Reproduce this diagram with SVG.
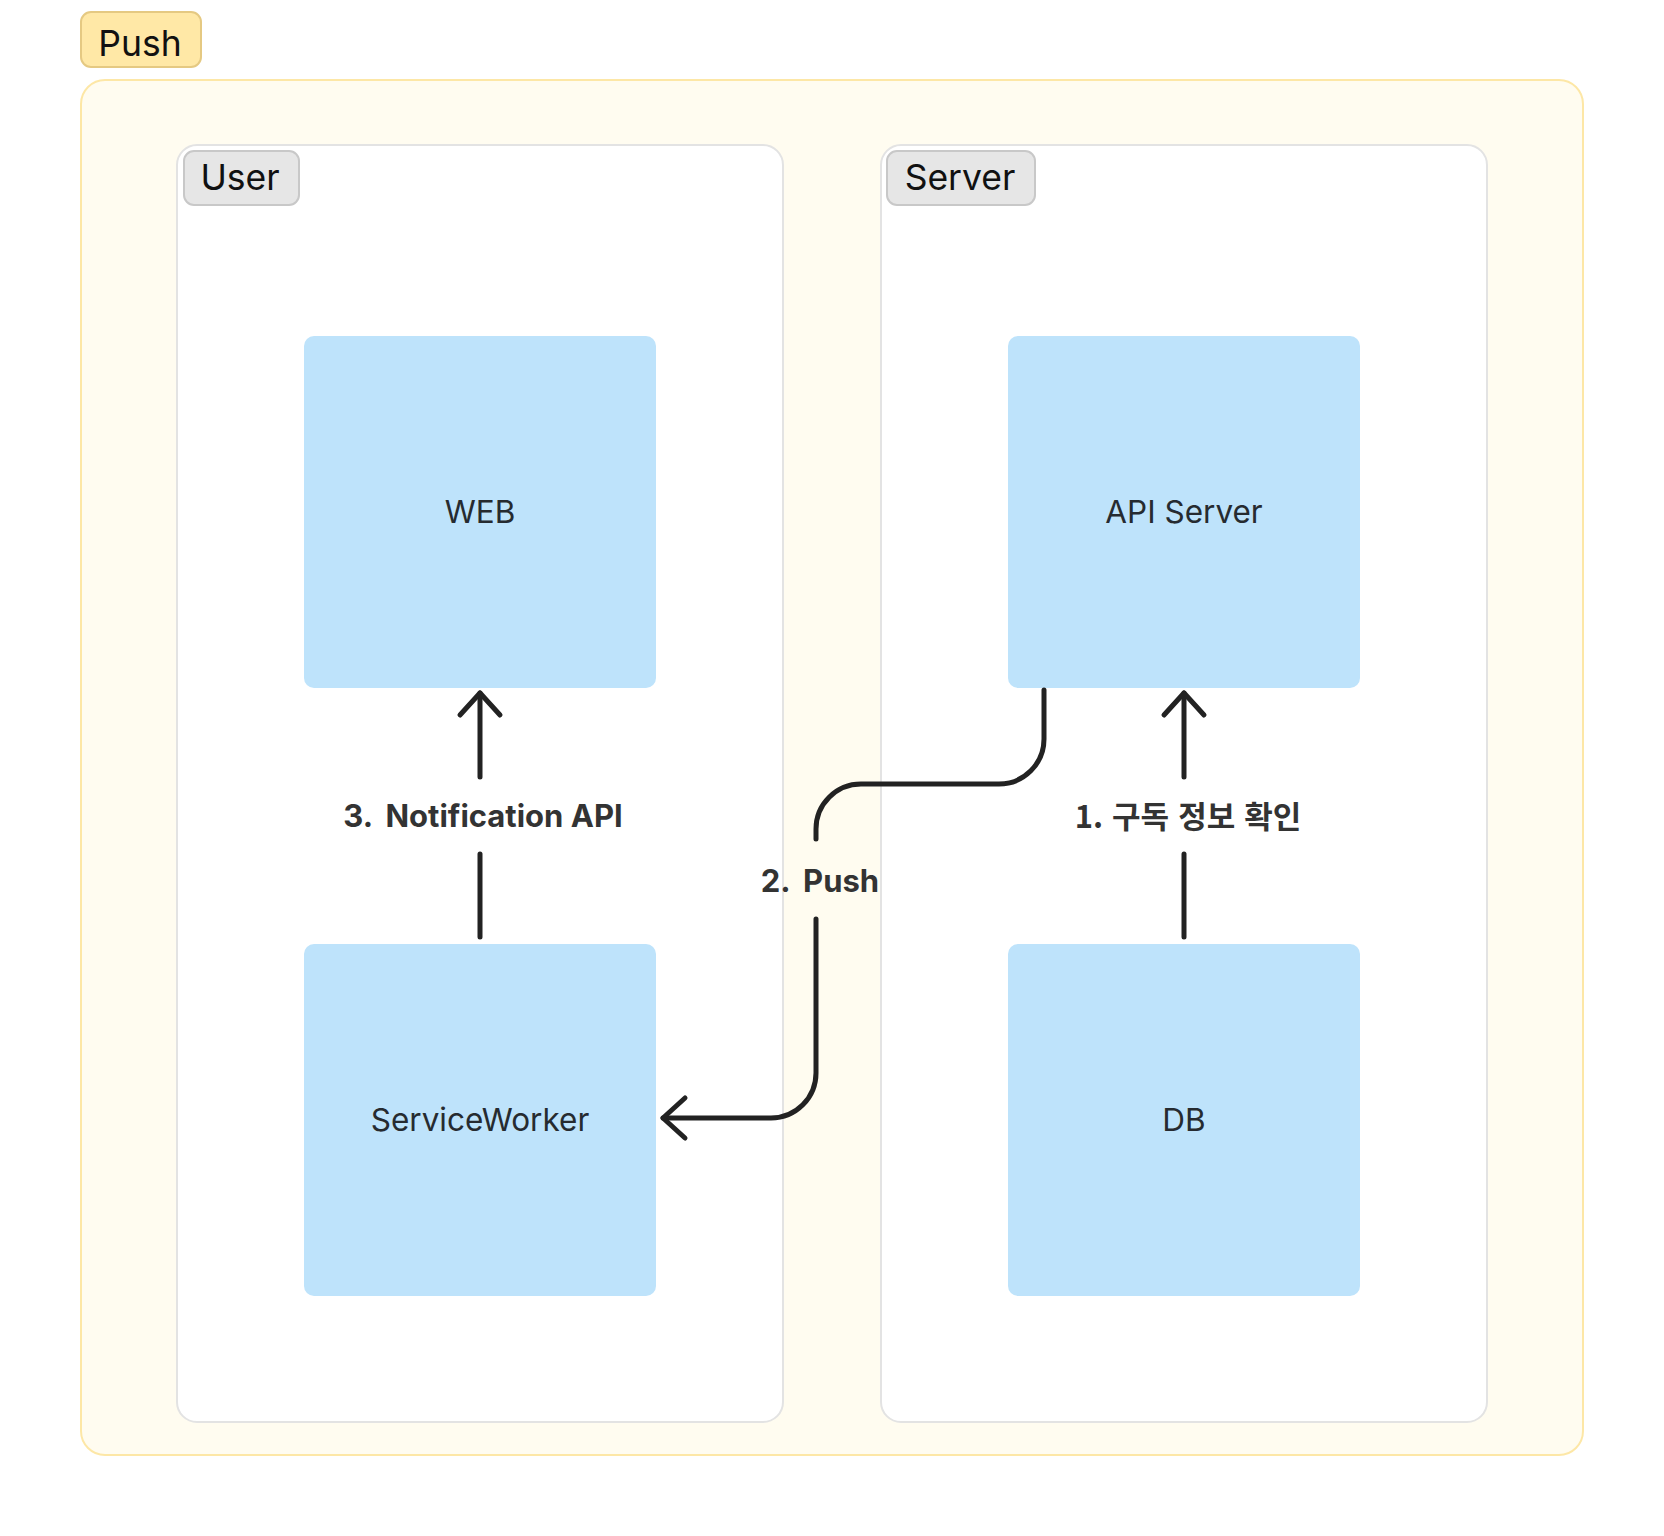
<svg xmlns="http://www.w3.org/2000/svg" width="1664" height="1536" viewBox="0 0 1664 1536">
<style>
.grp-label{font-family:Inter,"Liberation Sans",sans-serif;font-size:35.5px;fill:#111;text-anchor:middle}
.node rect{fill:#BEE3FB}
.node text{font-family:Inter,"Liberation Sans",sans-serif;font-size:31.5px;fill:#262b30;text-anchor:middle}
.conn{fill:none;stroke:#222;stroke-width:5;stroke-linecap:round;stroke-linejoin:round}
.clabel{font-family:Inter,"Liberation Sans","Noto Sans CJK KR",sans-serif;font-weight:bold;font-size:31px;fill:#333;text-anchor:middle}
.clabel-kr{font-family:"Noto Sans CJK KR",sans-serif;font-weight:bold;font-size:31px;word-spacing:2px;fill:#333;text-anchor:middle}
</style>
<defs>
<marker id="arr" markerUnits="userSpaceOnUse" markerWidth="60" markerHeight="60" viewBox="-30 -30 60 60" refX="0" refY="0" orient="auto" overflow="visible">
<path d="M-22,-20 L0,0 L-22,20" fill="none" stroke="#222" stroke-width="5" stroke-linecap="round" stroke-linejoin="round"/>
</marker>
</defs>
<rect width="1664" height="1536" fill="#fff"/>
<g id="group-push">
<rect x="81" y="80" width="1502" height="1375" rx="24" fill="#FFFCF0" stroke="#FDE7A6" stroke-width="2"/>
<rect x="81" y="12" width="120" height="55" rx="10" fill="#FFE8A6" stroke="#E5C982" stroke-width="2"/>
<text class="grp-label" x="140" y="56">Push</text>
</g>
<g id="group-user">
<rect x="177" y="145" width="606" height="1277" rx="20" fill="#fff" stroke="#E3E3E3" stroke-width="2"/>
<rect x="184" y="151" width="115" height="54" rx="10" fill="#E6E6E6" stroke="#C8C8C8" stroke-width="2"/>
<text class="grp-label" x="240" y="190">User</text>
</g>
<g id="group-server">
<rect x="881" y="145" width="606" height="1277" rx="20" fill="#fff" stroke="#E3E3E3" stroke-width="2"/>
<rect x="887" y="151" width="148" height="54" rx="10" fill="#E6E6E6" stroke="#C8C8C8" stroke-width="2"/>
<text class="grp-label" x="960" y="190">Server</text>
</g>
<g id="node-web" class="node">
<rect x="304" y="336" width="352" height="352" rx="10"/>
<text x="480" y="523">WEB</text>
</g>
<g id="node-serviceworker" class="node">
<rect x="304" y="944" width="352" height="352" rx="10"/>
<text x="480" y="1131">ServiceWorker</text>
</g>
<g id="node-apiserver" class="node">
<rect x="1008" y="336" width="352" height="352" rx="10"/>
<text x="1184" y="523">API Server</text>
</g>
<g id="node-db" class="node">
<rect x="1008" y="944" width="352" height="352" rx="10"/>
<text x="1184" y="1131">DB</text>
</g>
<g id="connectors">
<path class="conn" d="M480,937 V854"/>
<path class="conn" d="M480,777 V693" marker-end="url(#arr)"/>
<text class="clabel" x="483" y="827">3.<tspan dx="6"> Notification API</tspan></text>
<path class="conn" d="M1184,937 V854"/>
<path class="conn" d="M1184,777 V693" marker-end="url(#arr)"/>
<text class="clabel-kr" x="1188" y="828">1. 구독 정보 확인</text>
<path class="conn" d="M1044,690 V739 A45,45 0 0 1 999,784 H861 A45,45 0 0 0 816,829 V839"/>
<path class="conn" d="M816,919 V1073 A45,45 0 0 1 771,1118 H663" marker-end="url(#arr)"/>
<text class="clabel" x="820" y="892">2.<tspan dx="6"> Push</tspan></text>
</g>
</svg>
